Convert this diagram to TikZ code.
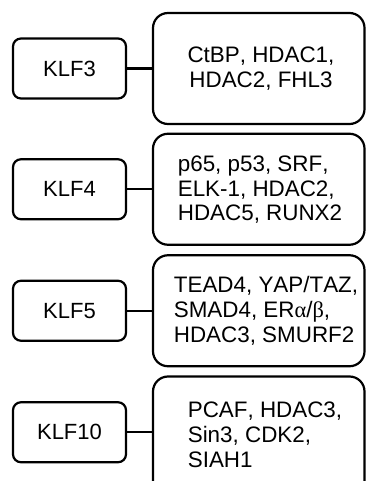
\documentclass[tikz,border=0pt]{standalone}
\usepackage{fontspec}
\setmainfont{Liberation Sans}[Kerning=Off]
\newfontfamily\grk{Liberation Serif}
\begin{document}
\begin{tikzpicture}[x=1pt,y=-1pt,
  klfbox/.style={draw, line width=2.2pt, rounded corners=8pt, minimum width=113pt, minimum height=60pt, inner sep=0pt, font=\fontsize{22}{25}\selectfont},
  partbox/.style={draw, line width=2.2pt, rounded corners=15pt, minimum width=211.5pt, minimum height=111pt, inner sep=0pt},
  parttext/.style={inner sep=0pt, align=left, font=\fontsize{22.4}{24.8}\selectfont},
  link/.style={line width=2.2pt}]
\useasboundingbox (0,0) rectangle (366,481);
\node[klfbox] (k3) at (69.5,68.5) {KLF3};
\node[klfbox] (k4) at (69.5,189.25) {KLF4};
\node[klfbox] (k5) at (69.5,310.75) {KLF5};
\node[klfbox] (k10) at (69.5,432.25) {KLF10};
\node[partbox] (p3) at (258.75,68.5) {};
\node[partbox] (p4) at (258.75,189.25) {};
\node[partbox] (p5) at (258.75,310.75) {};
\node[partbox, minimum height=122pt] (p10) at (258.75,437.5) {};
\node[parttext, align=center] (t3) at (261,68.5) {CtBP, HDAC1,\\HDAC2, FHL3};
\node[parttext] (t4) at (260,189.75) {p65, p53, SRF,\\ELK-1, HDAC2,\\HDAC5, RUNX2};
\node[parttext] (t5) at (266,310.75) {TEAD4, YAP/TAZ,\\SMAD4, ER{\grk α}/{\grk β},\\HDAC3, SMURF2};
\node[parttext] (t10) at (265,434.5) {PCAF, HDAC3,\\Sin3, CDK2,\\SIAH1};
\draw[link] (k3.east) -- (p3.west);
\draw[link] (k4.east) -- (p4.west);
\draw[link] (k5.east) -- (p5.west);
\draw[link] (k10.east) -- (k10.east -| p10.west);
\end{tikzpicture}
\end{document}
